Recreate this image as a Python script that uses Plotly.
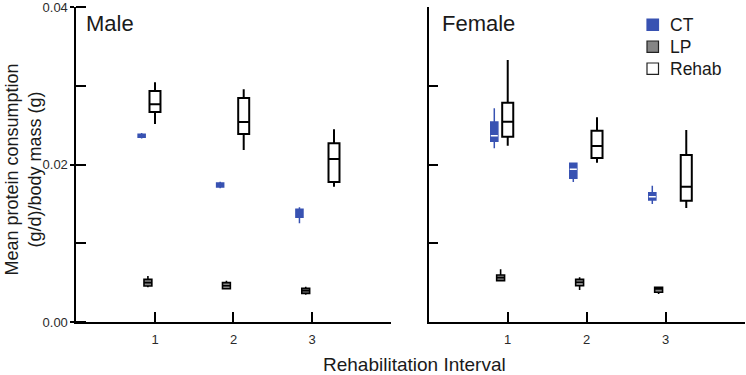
import plotly.graph_objects as go

# ---------------- data ----------------
intervals = [1, 2, 3]
x_tick_labels = ["1", "2", "3"]
groups = ["CT", "LP", "Rehab"]

# x positions of each box (interval + small offset as drawn)
male_ct_x = [0.83, 1.83, 2.84]
male_lp_x = [0.91, 1.91, 2.92]
male_rehab_x = [1.0, 2.13, 3.28]
female_ct_x = [0.83, 1.83, 2.83]
female_lp_x = [0.91, 1.91, 2.91]
female_rehab_x = [1.0, 2.13, 3.26]

# male
male_ct_low = [0.02330, 0.01698, 0.01253]
male_ct_q1 = [0.02345, 0.01715, 0.01330]
male_ct_med = [0.02366, 0.01740, 0.01380]
male_ct_q3 = [0.02385, 0.01765, 0.01431]
male_ct_high = [0.02400, 0.01782, 0.01457]

male_lp_low = [0.00440, 0.00423, 0.00347]
male_lp_q1 = [0.00457, 0.00423, 0.00364]
male_lp_med = [0.00500, 0.00460, 0.00398]
male_lp_q3 = [0.00542, 0.00500, 0.00427]
male_lp_high = [0.00584, 0.00525, 0.00448]

male_rehab_low = [0.02514, 0.02184, 0.01718]
male_rehab_q1 = [0.02667, 0.02387, 0.01778]
male_rehab_med = [0.02764, 0.02540, 0.02070]
male_rehab_q3 = [0.02933, 0.02844, 0.02269]
male_rehab_high = [0.03044, 0.02955, 0.02447]

# female
female_ct_low = [0.02205, 0.01778, 0.01498]
female_ct_q1 = [0.02294, 0.01825, 0.01549]
female_ct_med = [0.02366, 0.01939, 0.01591]
female_ct_q3 = [0.02540, 0.02015, 0.01642]
female_ct_high = [0.02713, 0.02015, 0.01731]

female_lp_low = [0.00525, 0.00406, 0.00356]
female_lp_q1 = [0.00525, 0.00461, 0.00377]
female_lp_med = [0.00563, 0.00504, 0.00420]
female_lp_q3 = [0.00597, 0.00542, 0.00440]
female_lp_high = [0.00669, 0.00567, 0.00440]

female_rehab_low = [0.02239, 0.02023, 0.01448]
female_rehab_q1 = [0.02353, 0.02083, 0.01540]
female_rehab_med = [0.02544, 0.02235, 0.01718]
female_rehab_q3 = [0.02785, 0.02429, 0.02121]
female_rehab_high = [0.03327, 0.02600, 0.02438]

# ---------------- styling ----------------
BLUE = "#3852b2"
GRAY = "#858585"
TXT = "#1a1a1a"
FONT = "Liberation Sans, Arial, sans-serif"
W, H = 746, 375

styles = {
    "CT": dict(fillcolor=BLUE, line=dict(color=BLUE, width=1.5), width=0.09),
    "LP": dict(fillcolor=GRAY, line=dict(color="black", width=1.6), width=0.1),
    "Rehab": dict(fillcolor="white", line=dict(color="black", width=2), width=0.14),
}

fig = go.Figure()

panels = [
    ("x", "y", [
        ("CT", male_ct_x, male_ct_low, male_ct_q1, male_ct_med, male_ct_q3, male_ct_high),
        ("LP", male_lp_x, male_lp_low, male_lp_q1, male_lp_med, male_lp_q3, male_lp_high),
        ("Rehab", male_rehab_x, male_rehab_low, male_rehab_q1, male_rehab_med, male_rehab_q3, male_rehab_high),
    ]),
    ("x2", "y2", [
        ("CT", female_ct_x, female_ct_low, female_ct_q1, female_ct_med, female_ct_q3, female_ct_high),
        ("LP", female_lp_x, female_lp_low, female_lp_q1, female_lp_med, female_lp_q3, female_lp_high),
        ("Rehab", female_rehab_x, female_rehab_low, female_rehab_q1, female_rehab_med, female_rehab_q3, female_rehab_high),
    ]),
]

for xa, ya, series in panels:
    for name, xs, lo, q1, med, q3, hi in series:
        st = styles[name]
        fig.add_trace(go.Box(
            name=name, showlegend=False,
            x=xs, q1=q1, median=med, q3=q3, lowerfence=lo, upperfence=hi,
            fillcolor=st["fillcolor"], line=st["line"], width=st["width"],
            whiskerwidth=0, boxpoints=False,
            xaxis=xa, yaxis=ya,
        ))

# white median marks on the female CT boxes
fig.add_trace(go.Scatter(
    x=female_ct_x, y=female_ct_med, mode="markers", showlegend=False,
    marker=dict(symbol="line-ew", size=5, color="white", line=dict(color="white", width=1.5)),
    xaxis="x2", yaxis="y2", hoverinfo="skip",
))

ydom = [0.1413, 0.9813]
xcommon = dict(range=[0, 4], tickmode="array", tickvals=intervals, ticktext=x_tick_labels,
               ticks="inside", ticklen=10, tickwidth=2, tickcolor="black", ticklabelstandoff=4,
               automargin=False,
               showline=True, linewidth=2, linecolor="black", showgrid=False, zeroline=False,
               tickfont=dict(size=13, color="#2a2a2a", family=FONT))

fig.update_layout(
    width=W, height=H,
    margin=dict(l=0, r=0, t=0, b=0),
    paper_bgcolor="white", plot_bgcolor="white",
    boxmode="overlay",
    showlegend=False,
    font=dict(family=FONT, color=TXT),
    xaxis=dict(domain=[0.1025, 0.5235], anchor="y", **xcommon),
    xaxis2=dict(domain=[0.5747, 0.9983], anchor="y2", **xcommon),
    yaxis=dict(domain=ydom, range=[0, 0.04], anchor="x", tickmode="linear", tick0=0, dtick=0.02,
               tickformat=".2f", ticks="outside", ticklen=4, tickwidth=1.5, tickcolor="black",
               ticklabeloverflow="allow", automargin=False,
               minor=dict(dtick=0.01, ticks="inside", ticklen=10, tickwidth=2, tickcolor="black"),
               showline=True, linewidth=2, linecolor="black", showgrid=False, zeroline=False,
               tickfont=dict(size=13, color="#2a2a2a", family=FONT)),
    yaxis2=dict(domain=ydom, range=[0, 0.04], anchor="x2", tickmode="linear", tick0=0, dtick=0.01,
                ticks="inside", ticklen=9, tickwidth=2, tickcolor="black", showticklabels=False,
                automargin=False,
                showline=True, linewidth=2, linecolor="black", showgrid=False, zeroline=False),
)

# panel titles and axis titles
ann = [
    dict(text="Male", x=84 / W, y=1 - 9 / H, xanchor="left", yanchor="top", size=22),
    dict(text="Female", x=440 / W, y=1 - 9 / H, xanchor="left", yanchor="top", size=22),
    dict(text="Rehabilitation Interval", x=414.5 / W, y=0, xanchor="center", yanchor="bottom",
         borderpad=0, yshift=-1, size=19),
    dict(text="Mean protein consumption<br>(g/d)/body mass (g)", x=22.5 / W, y=1 - 170 / H,
         xanchor="center", yanchor="middle", textangle=-90, size=18),
]
for a in ann:
    size = a.pop("size")
    fig.add_annotation(xref="paper", yref="paper", showarrow=False,
                       font=dict(family=FONT, color=TXT, size=size), **a)

# manual legend
legend_rows = [("CT", BLUE, BLUE, 24.7), ("LP", GRAY, "#222222", 46.7), ("Rehab", "white", "#222222", 68.7)]
for label, fill, edge, yc in legend_rows:
    fig.add_shape(type="rect", xref="paper", yref="paper",
                  x0=647 / W, x1=658.5 / W, y0=1 - (yc + 5.7) / H, y1=1 - (yc - 5.7) / H,
                  fillcolor=fill, line=dict(color=edge, width=1.2))
    fig.add_annotation(xref="paper", yref="paper", showarrow=False, text=label,
                       x=668 / W, y=1 - yc / H, xanchor="left", yanchor="middle",
                       font=dict(family=FONT, color=TXT, size=17.5))

fig.write_html("out.html")
